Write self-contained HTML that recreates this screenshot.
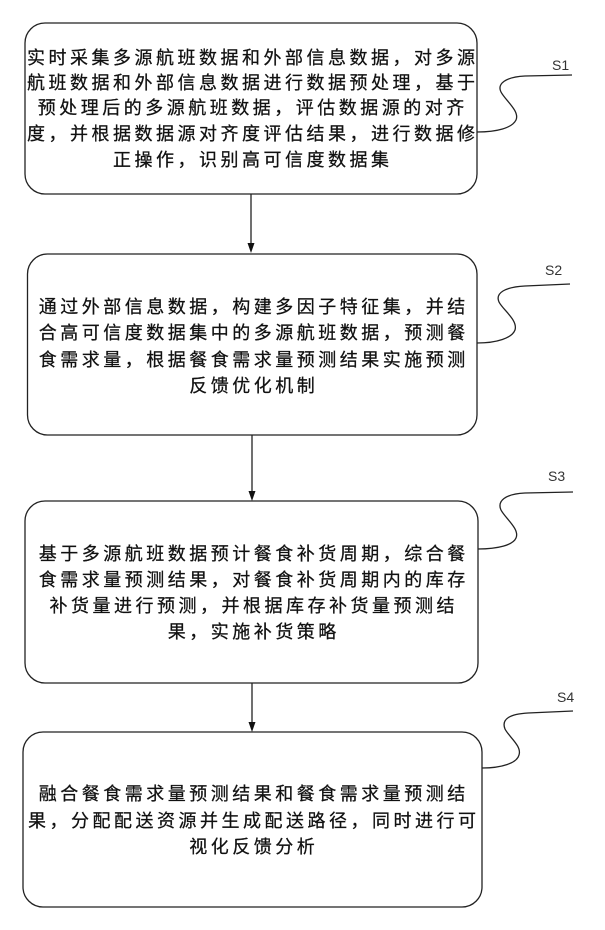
<!DOCTYPE html>
<html>
<head>
<meta charset="utf-8">
<style>
  html,body{margin:0;padding:0;background:#fff;}
  #c{position:relative;width:605px;height:930px;overflow:hidden;background:#fff;}
  svg{position:absolute;left:0;top:0;}
  .l{position:absolute;width:600px;height:26px;line-height:26px;text-align:center;
     font-family:"Liberation Sans","Noto Sans CJK SC",sans-serif;font-size:18px;
     letter-spacing:3.5px;padding-left:3.5px;box-sizing:border-box;color:#111;white-space:nowrap;
     -webkit-text-stroke:0.25px #111;}
  .s{position:absolute;font-family:"Liberation Sans",sans-serif;font-size:14px;color:#333;line-height:14px;}
</style>
</head>
<body>
<div id="c">
<svg width="605" height="930" viewBox="0 0 605 930">
  <g fill="none" stroke="#222" stroke-width="1.3">
    <rect x="25" y="23" width="452" height="171" rx="20" ry="20"/>
    <rect x="27.5" y="254" width="449.5" height="181" rx="20" ry="20"/>
    <rect x="25" y="501" width="453" height="182" rx="20" ry="20"/>
    <rect x="23" y="732" width="459" height="175" rx="20" ry="20"/>
    <!-- arrows -->
    <line x1="251" y1="194" x2="251" y2="244"/>
    <line x1="252" y1="435" x2="252" y2="492"/>
    <line x1="252" y1="683" x2="252" y2="723"/>
    <!-- leaders -->
    <path d="M477,132 C497,132 512,128 516,120 C520,111 505,100 501,92 C497,84 505,77 525,76 L572,75"/>
    <path d="M477,343 C497,343 512,338 515,330 C518,320 503,310 499,302 C495,293 505,287 525,286 L570,284"/>
    <path d="M478,549 C498,549 513,545 516,538 C520,529 505,518 501,510 C497,501 505,494 525,493 L573,492"/>
    <path d="M482,768 C502,768 517,763 519,755 C522,746 509,737 505,729 C501,719 510,714 528,713 L573,711"/>
  </g>
  <g fill="#111">
    <polygon points="247.5,243 254.5,243 251,253"/>
    <polygon points="248.5,491 255.5,491 252,501"/>
    <polygon points="248.5,722 255.5,722 252,732"/>
  </g>
</svg>

<!-- Box 1 -->
<div class="l" style="left:-49px;top:45px;">实时采集多源航班数据和外部信息数据，对多源</div>
<div class="l" style="left:-49px;top:70px;">航班数据和外部信息数据进行数据预处理，基于</div>
<div class="l" style="left:-49px;top:95px;">预处理后的多源航班数据，评估数据源的对齐</div>
<div class="l" style="left:-49px;top:121px;">度，并根据数据源对齐度评估结果，进行数据修</div>
<div class="l" style="left:-49px;top:147px;">正操作，识别高可信度数据集</div>

<!-- Box 2 -->
<div class="l" style="left:-48px;top:294px;">通过外部信息数据，构建多因子特征集，并结</div>
<div class="l" style="left:-48px;top:320px;">合高可信度数据集中的多源航班数据，预测餐</div>
<div class="l" style="left:-48px;top:347px;">食需求量，根据餐食需求量预测结果实施预测</div>
<div class="l" style="left:-48px;top:373px;">反馈优化机制</div>

<!-- Box 3 -->
<div class="l" style="left:-48px;top:541px;">基于多源航班数据预计餐食补货周期，综合餐</div>
<div class="l" style="left:-48px;top:567px;">食需求量预测结果，对餐食补货周期内的库存</div>
<div class="l" style="left:-48px;top:593px;">补货量进行预测，并根据库存补货量预测结</div>
<div class="l" style="left:-48px;top:619px;">果，实施补货策略</div>

<!-- Box 4 -->
<div class="l" style="left:-48px;top:781px;">融合餐食需求量预测结果和餐食需求量预测结</div>
<div class="l" style="left:-48px;top:808px;">果，分配配送资源并生成配送路径，同时进行可</div>
<div class="l" style="left:-48px;top:834px;">视化反馈分析</div>

<!-- Labels -->
<div class="s" style="left:552px;top:58px;">S1</div>
<div class="s" style="left:545px;top:263px;">S2</div>
<div class="s" style="left:548px;top:469px;">S3</div>
<div class="s" style="left:557px;top:690px;">S4</div>
</div>
</body>
</html>
